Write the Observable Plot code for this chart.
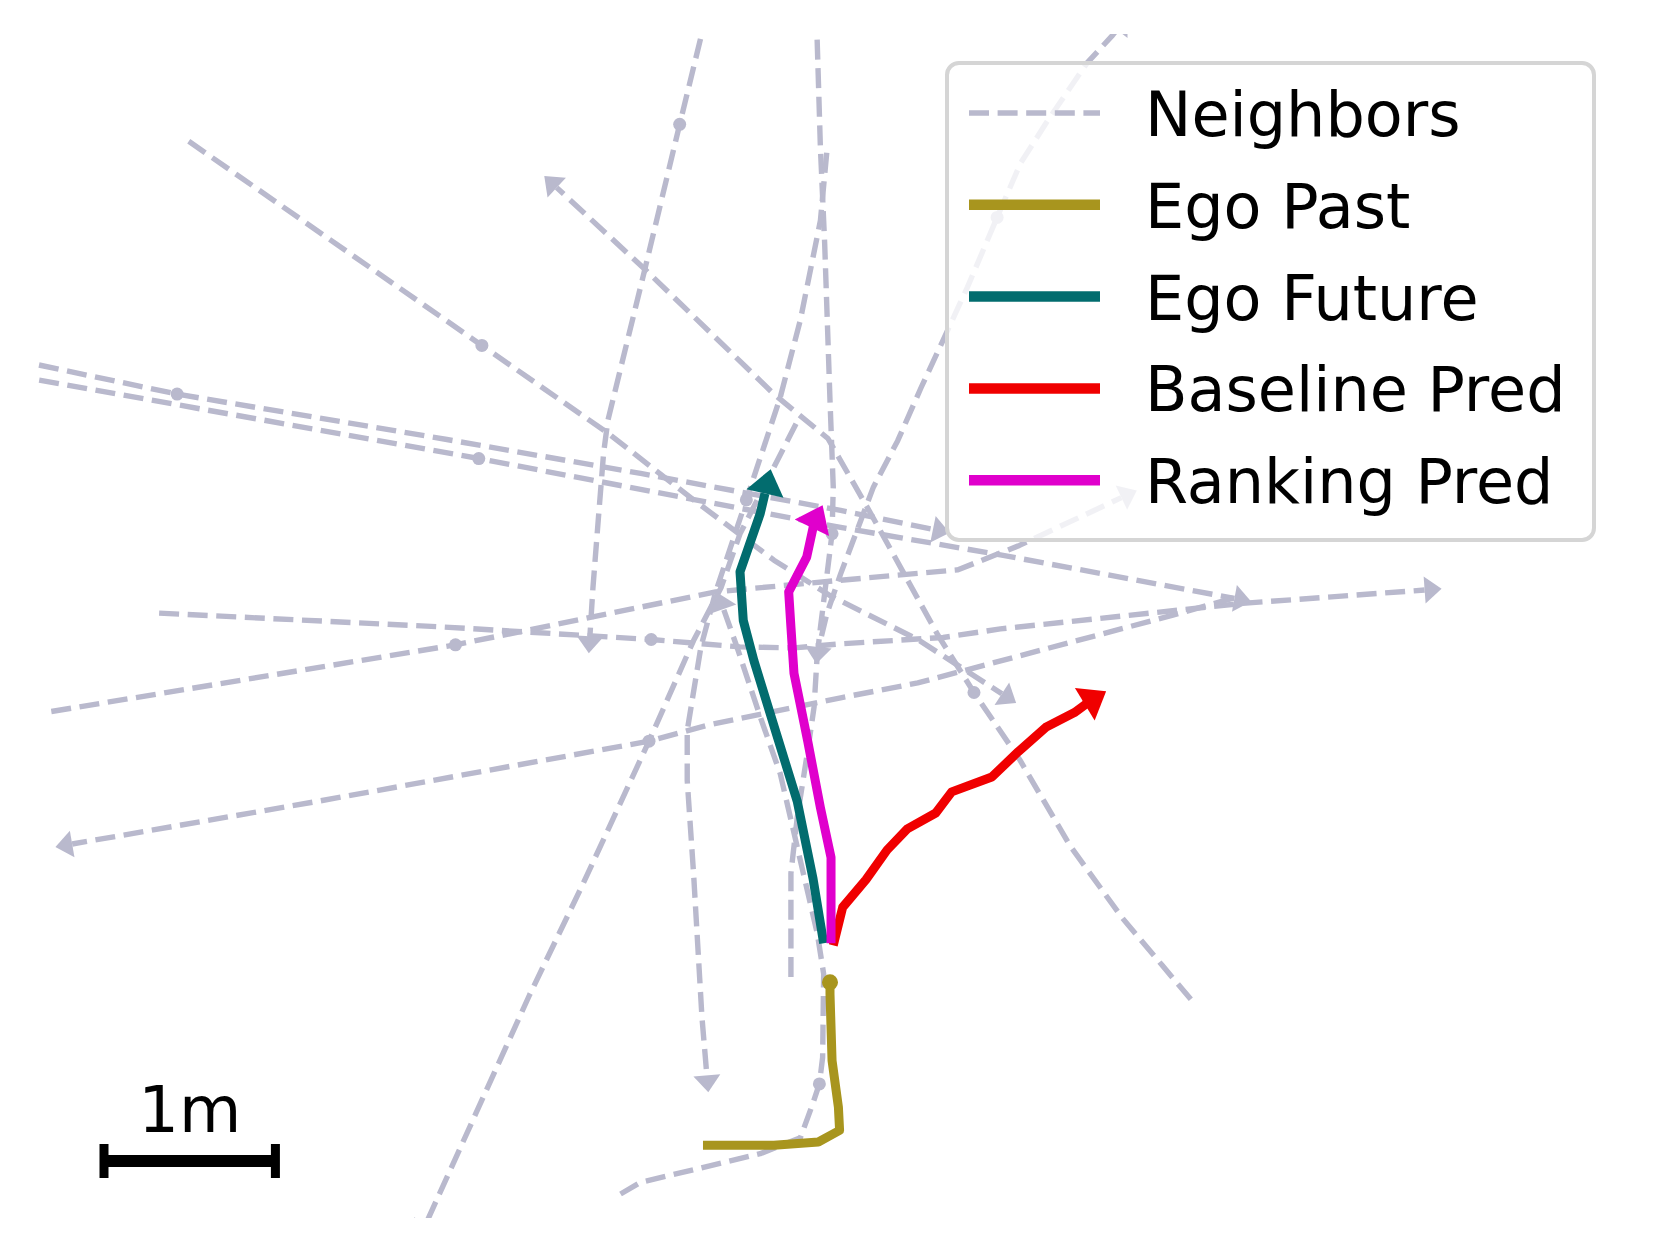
<!DOCTYPE html>
<html><head><meta charset="utf-8">
<script src="https://cdn.jsdelivr.net/npm/d3@7"></script>
<script src="https://cdn.jsdelivr.net/npm/@observablehq/plot@0.6"></script>
<style>
html,body{margin:0;padding:0;background:#fff;}
#chart{width:1659px;height:1252px;}
svg{display:block;}
</style></head><body><div id="chart"></div>
<script>
// Coordinates in metres, origin at the ego's current position, y pointing up.
const egoPastX = [-0.741, -0.327, -0.068, 0.056, 0.049, 0.012, 0.000, 0.000];
const egoPastY = [-0.951, -0.951, -0.932, -0.864, -0.728, -0.457, -0.068, 0.000];
const egoFutureX = [-0.037, -0.099, -0.191, -0.309, -0.444, -0.506, -0.525, -0.407, -0.346];
const egoFutureY = [0.228, 0.605, 1.056, 1.438, 1.877, 2.111, 2.395, 2.735, 2.994];
const baselineX = [0.019, 0.074, 0.210, 0.333, 0.451, 0.617, 0.710, 0.944, 1.099, 1.259, 1.426, 1.519, 1.611];
const baselineY = [0.216, 0.438, 0.599, 0.772, 0.895, 0.988, 1.111, 1.198, 1.346, 1.488, 1.574, 1.642, 1.698];
const rankingX = [0.006, 0.006, -0.056, -0.130, -0.210, -0.228, -0.241, -0.136, -0.093, -0.043];
const rankingY = [0.228, 0.728, 1.019, 1.407, 1.802, 2.074, 2.278, 2.481, 2.679, 2.784];

// neighbour trajectories
const nb01X = [-0.716, -0.877, -1.086, -1.296, -1.321, -1.352, -1.383, -1.407];
const nb01Y = [5.667, 5.006, 4.136, 3.278, 3.086, 2.698, 2.302, 1.920];
const nb02X = [-0.080, -0.056, -0.031, 0.000, 0.019, 0.012, -0.056, -0.080];
const nb02Y = [5.667, 4.870, 4.309, 3.395, 2.889, 2.617, 2.068, 1.858];
const nb03X = [-3.741, -2.031, -1.296, -0.796, -0.327, 0.006, 0.512, 1.086];
const nb03Y = [4.907, 3.716, 3.204, 2.815, 2.463, 2.253, 2.000, 1.630];
const nb04X = [2.105, 1.938, 1.704, 1.401, 1.105, 0.840, 0.630, 0.426, 0.228, -0.012, -0.327, -1.080, -1.667];
const nb04Y = [-0.099, 0.099, 0.377, 0.796, 1.302, 1.691, 2.025, 2.395, 2.753, 3.173, 3.432, 4.160, 4.704];
const nb05X = [-4.778, -3.809, -2.235, -1.105, 0.062, 0.698];
const nb05Y = [3.636, 3.432, 3.167, 2.969, 2.753, 2.623];
const nb06X = [-4.778, -2.049, -0.716, 0.062, 0.994, 2.457];
const nb06Y = [3.543, 3.056, 2.802, 2.654, 2.494, 2.222];
const nb07X = [-3.914, -2.272, -1.753, -1.043, -0.525, -0.210, 0.062, 0.660, 0.994, 2.395, 3.568];
const nb07Y = [2.154, 2.074, 2.043, 2.000, 1.957, 1.951, 1.975, 2.012, 2.062, 2.210, 2.296];
const nb08X = [-4.543, -2.185, -0.667, 0.062, 0.747, 1.105, 1.790];
const nb08Y = [1.580, 1.969, 2.278, 2.346, 2.407, 2.549, 2.870];
const nb09X = [2.352, 2.000, 0.512, 0.062, -0.383, -0.716, -1.056, -2.988, -4.519];
const nb09Y = [2.241, 2.142, 1.747, 1.660, 1.568, 1.500, 1.407, 1.056, 0.790];
const nb10X = [-0.198, -0.327, -0.525, -0.636, -0.796, -1.056, -1.444, -1.753, -2.340, -2.395];
const nb10Y = [3.259, 3.006, 2.617, 2.302, 1.994, 1.407, 0.568, -0.074, -1.370, -1.494];
const nb11X = [-0.228, -0.228, -0.191, -0.130, -0.093, -0.074, -0.019, 0.062, 0.253, 0.395, 0.531, 0.660, 0.802, 0.975, 1.111, 1.272, 1.500, 1.648, 1.735];
const nb11Y = [0.031, 0.636, 0.963, 1.352, 1.605, 1.920, 2.148, 2.383, 2.889, 3.160, 3.469, 3.747, 4.056, 4.463, 4.778, 5.031, 5.364, 5.525, 5.636];
const nb12X = [-1.222, -1.105, -0.407, -0.173, -0.099, -0.062, -0.043, -0.037, -0.074, -0.290, -0.407, -0.543, -0.654];
const nb12Y = [-1.235, -1.167, -1.000, -0.907, -0.704, -0.593, -0.438, 0.049, 0.284, 1.216, 1.549, 1.957, 2.272];
const nb13X = [-0.019, -0.056, -0.173, -0.290, -0.488, -0.667, -0.753, -0.833, -0.833, -0.796, -0.747, -0.710];
const nb13Y = [4.840, 4.444, 3.864, 3.414, 2.815, 2.278, 1.957, 1.469, 1.179, 0.636, -0.204, -0.642];

// neighbours' current positions
const nbNowX = [-0.877, 0.012, -2.031, 0.840, -3.809, -2.049, -1.043, -2.185, -1.056, 0.975, -0.062, -0.488];
const nbNowY = [5.006, 2.617, 3.716, 1.691, 3.432, 3.056, 2.000, 1.969, 1.407, 4.463, -0.593, 2.815];

const legendLabels = ["Neighbors", "Ego Past", "Ego Future", "Baseline Pred", "Ranking Pred"];
const scaleBarLabel = "1m";
const scaleBarLength = 1; // metres

// ---- styling / layout ----
const W = 1659, H = 1252, M = 34;
const NB = "#b9b9cd", OLIVE = "#a8951e", TEAL = "#026c6e", RED = "#f00000", MAG = "#e000cc";
const FONT = "'DejaVu Sans', sans-serif";
const PXM = 171.4; // pixels per metre
const xDom = [-4.641, 4.641], yDom = [-1.378, 5.530];
const NB_SW = 5.4, NB_DASH = "20,8.6", EGO_SW = 9;

const neighbors = [[nb01X,nb01Y],[nb02X,nb02Y],[nb03X,nb03Y],[nb04X,nb04Y],[nb05X,nb05Y],[nb06X,nb06Y],[nb07X,nb07Y],[nb08X,nb08Y],[nb09X,nb09Y],[nb10X,nb10Y],[nb11X,nb11Y],[nb12X,nb12Y],[nb13X,nb13Y]];

function head(xs, ys, L, Wd, id) {
  const n = xs.length, tx = xs[n-1], ty = ys[n-1];
  const dx = tx - xs[n-2], dy = ty - ys[n-2], d = Math.hypot(dx, dy);
  const ux = dx/d, uy = dy/d, nx = -uy, ny = ux;
  const bx = tx - ux*L, by = ty - uy*L;
  return {
    tri: [{x: bx+nx*Wd/2, y: by+ny*Wd/2, id}, {x: tx, y: ty, id}, {x: bx-nx*Wd/2, y: by-ny*Wd/2, id}],
    shaft: xs.slice(0, n-1).map((x, i) => ({x, y: ys[i], id})).concat([{x: bx, y: by, id}])
  };
}
const nbL = 17/PXM, nbW = 27/PXM, egoL = 25/PXM, egoW = 38/PXM;
const nbShafts = [], nbHeads = [];
neighbors.forEach(([xs, ys], i) => { const h = head(xs, ys, nbL, nbW, i); nbShafts.push(...h.shaft); nbHeads.push(...h.tri); });
const pastRows = egoPastX.map((x, i) => ({x, y: egoPastY[i]}));
const fut = head(egoFutureX, egoFutureY, egoL, egoW, "f");
const base = head(baselineX, baselineY, egoL, egoW, "b");
const rank = head(rankingX, rankingY, egoL, egoW, "r");
const dots = nbNowX.map((x, i) => ({x, y: nbNowY[i]}));

const plot = Plot.plot({
  width: W, height: H, marginTop: M, marginRight: M, marginBottom: M, marginLeft: M,
  x: {domain: xDom, axis: null},
  y: {domain: yDom, axis: null},
  style: {background: "white", overflow: "visible"},
  marks: [
    Plot.line(nbShafts, {x: "x", y: "y", z: "id", stroke: NB, strokeWidth: NB_SW, strokeDasharray: NB_DASH, strokeLinecap: "butt", strokeLinejoin: "round", clip: true}),
    Plot.line(nbHeads, {x: "x", y: "y", z: "id", fill: NB, stroke: "none", curve: "linear-closed", clip: true}),
    Plot.dot(dots, {x: "x", y: "y", r: 6.5, fill: NB, stroke: "none", clip: true}),
    Plot.line(pastRows, {x: "x", y: "y", stroke: OLIVE, strokeWidth: EGO_SW, strokeLinecap: "butt", strokeLinejoin: "round"}),
    Plot.dot([pastRows[pastRows.length-1]], {x: "x", y: "y", r: 8, fill: OLIVE, stroke: "none"}),
    Plot.line(fut.shaft, {x: "x", y: "y", stroke: TEAL, strokeWidth: EGO_SW, strokeLinecap: "butt", strokeLinejoin: "round"}),
    Plot.line(fut.tri, {x: "x", y: "y", fill: TEAL, stroke: "none", curve: "linear-closed"}),
    Plot.line(base.shaft, {x: "x", y: "y", stroke: RED, strokeWidth: EGO_SW, strokeLinecap: "butt", strokeLinejoin: "round"}),
    Plot.line(base.tri, {x: "x", y: "y", fill: RED, stroke: "none", curve: "linear-closed"}),
    Plot.line(rank.shaft, {x: "x", y: "y", stroke: MAG, strokeWidth: EGO_SW, strokeLinecap: "butt", strokeLinejoin: "round"}),
    Plot.line(rank.tri, {x: "x", y: "y", fill: MAG, stroke: "none", curve: "linear-closed"})
  ]
});

const svg = d3.select(plot);
// legend
const lg = svg.append("g");
lg.append("rect").attr("x", 947).attr("y", 63).attr("width", 647).attr("height", 477).attr("rx", 12)
  .attr("fill", "white").attr("fill-opacity", 0.8).attr("stroke", "#d5d5d5").attr("stroke-width", 4);
const legendStyles = [
  {c: NB, w: NB_SW, dash: NB_DASH}, {c: OLIVE, w: 10.5}, {c: TEAL, w: 10.5}, {c: RED, w: 10.5}, {c: MAG, w: 10.5}
];
legendLabels.forEach((lab, i) => {
  const y = 113 + i*91.8;
  const st = legendStyles[i];
  lg.append("line").attr("x1", 969).attr("x2", 1100).attr("y1", y).attr("y2", y)
    .attr("stroke", st.c).attr("stroke-width", st.w).attr("stroke-dasharray", st.dash || null);
  lg.append("text").attr("x", 1145).attr("y", y + 23).attr("text-anchor", "start").attr("font-family", FONT).attr("font-size", 62)
    .attr("fill", "black").text(lab);
});
// scale bar
const sx = plot.scale("x");
const pxPerM = sx.apply(scaleBarLength) - sx.apply(0);
const bx0 = 104, bx1 = bx0 + pxPerM, by = 1161;
const sb = svg.append("g");
sb.append("line").attr("x1", bx0).attr("x2", bx1).attr("y1", by).attr("y2", by).attr("stroke", "black").attr("stroke-width", 12);
[bx0, bx1].forEach(x => sb.append("line").attr("x1", x).attr("x2", x).attr("y1", by-17).attr("y2", by+17).attr("stroke", "black").attr("stroke-width", 9));
sb.append("text").attr("x", (bx0+bx1)/2).attr("y", 1132).attr("text-anchor", "middle").attr("font-family", FONT)
  .attr("font-size", 64).attr("fill", "black").text(scaleBarLabel);

document.getElementById("chart").appendChild(plot);
</script></body></html>
